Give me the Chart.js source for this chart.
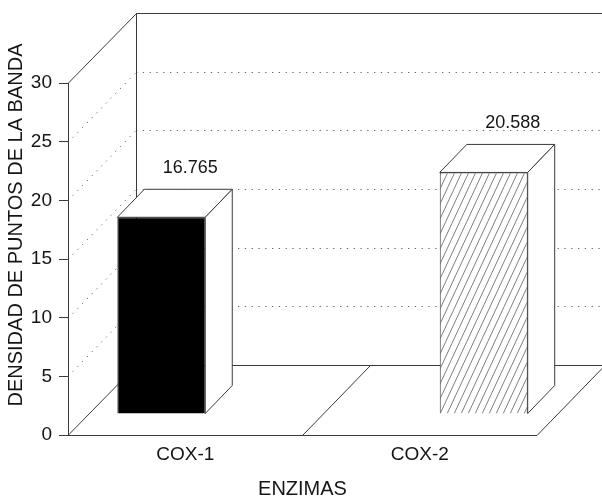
<!DOCTYPE html>
<html>
<head>
<meta charset="utf-8">
<script src="https://cdn.jsdelivr.net/npm/chart.js@4.4.1/dist/chart.umd.min.js"></script>
<style>
  html, body { margin: 0; padding: 0; background: #fff; }
  #wrap { width: 602px; height: 497px; }
</style>
</head>
<body>
<div id="wrap"><canvas id="c" width="602" height="497"></canvas></div>
<script>
// ---- data ----
const categories = ['COX-1', 'COX-2'];
const values = [16.765, 20.588];
const yTicks = [0, 5, 10, 15, 20, 25, 30];
const yTitle = 'DENSIDAD DE PUNTOS DE LA BANDA';
const xTitle = 'ENZIMAS';

// ---- 3D projection settings ----
const WALL_DX = 68, WALL_DY = -70;   // depth of the floor / walls
const BAR_DX = 20, BAR_DY = -21;     // bars stand part-way into the floor
const TOP_DX = 27, TOP_DY = -28;     // depth of each bar
const FONT = '"Liberation Sans", Arial, Helvetica, sans-serif';
const INK = '#151515';
const EDGE = '#3a3a3a';

function makeHatch(ctx) {
  const w = 7, h = 15;
  const c = document.createElement('canvas');
  c.width = w; c.height = h;
  const g = c.getContext('2d');
  g.fillStyle = '#fff';
  g.fillRect(0, 0, w, h);
  g.strokeStyle = '#707070';
  g.lineWidth = 0.9;
  g.beginPath();
  for (const ox of [-w, 0, w]) { g.moveTo(ox, h); g.lineTo(ox + w, 0); }
  g.stroke();
  return ctx.createPattern(c, 'repeat');
}

const canvas = document.getElementById('c');
const ctx0 = canvas.getContext('2d');
const fills = ['#000000', makeHatch(ctx0)];

function seg(ctx, x1, y1, x2, y2) {
  ctx.beginPath();
  ctx.moveTo(x1, y1);
  ctx.lineTo(x2, y2);
  ctx.stroke();
}

// walls, floor and dotted grid drawn in perspective; bars shifted into depth
const frame3d = {
  id: 'frame3d',
  beforeDatasetsDraw(chart) {
    const ctx = chart.ctx;
    const ys = chart.scales.y, xs = chart.scales.x;
    const L = chart.chartArea.left, R = chart.chartArea.right;
    const T = ys.getPixelForValue(yTicks[yTicks.length - 1]);
    const B = ys.getPixelForValue(yTicks[0]);
    const W = chart.width;
    ctx.save();
    ctx.lineWidth = 1;

    // dotted grid on left and back walls
    ctx.strokeStyle = '#6a6a6a';
    ctx.setLineDash([1.3, 5.5]);
    yTicks.slice(1, -1).forEach(v => {
      const y = Math.round(ys.getPixelForValue(v)) + 0.5;
      seg(ctx, L, y, L + WALL_DX, y + WALL_DY);
      seg(ctx, L + WALL_DX, y + WALL_DY, W, y + WALL_DY);
    });
    ctx.setLineDash([]);

    // solid edges
    ctx.strokeStyle = EDGE;
    const t = Math.round(T) + 0.5, b = Math.round(B) + 0.5;
    const bx = Math.round(L + WALL_DX) + 0.5;
    seg(ctx, L, t, bx, t + WALL_DY);
    seg(ctx, bx, t + WALL_DY, W, t + WALL_DY);
    seg(ctx, bx, t + WALL_DY, bx, b + WALL_DY);
    seg(ctx, L, b, bx, b + WALL_DY);
    seg(ctx, bx, b + WALL_DY, W, b + WALL_DY);
    seg(ctx, R, b, R + WALL_DX, b + WALL_DY);
    const mid = (xs.getPixelForValue(0) + xs.getPixelForValue(1)) / 2;
    seg(ctx, mid, b, mid + WALL_DX, b + WALL_DY);
    seg(ctx, L, b, R, b);
    ctx.restore();

    ctx.save();
    ctx.translate(BAR_DX, BAR_DY);
  },
  afterDatasetsDraw(chart) {
    const ctx = chart.ctx;
    ctx.restore();
    ctx.save();
    ctx.lineWidth = 1;
    ctx.strokeStyle = EDGE;
    chart.data.datasets.forEach((ds, i) => {
      const el = chart.getDatasetMeta(i).data[i];
      if (!el) return;
      const l = el.x - el.width / 2 + BAR_DX;
      const r = el.x + el.width / 2 + BAR_DX;
      const t = el.y + BAR_DY;
      const b = el.base + BAR_DY;
      // top face
      ctx.beginPath();
      ctx.moveTo(l, t); ctx.lineTo(r, t);
      ctx.lineTo(r + TOP_DX, t + TOP_DY); ctx.lineTo(l + TOP_DX, t + TOP_DY);
      ctx.closePath();
      ctx.fillStyle = '#fff'; ctx.fill(); ctx.stroke();
      // right side face
      ctx.beginPath();
      ctx.moveTo(r, t); ctx.lineTo(r + TOP_DX, t + TOP_DY);
      ctx.lineTo(r + TOP_DX, b + TOP_DY); ctx.lineTo(r, b);
      ctx.closePath();
      ctx.fillStyle = '#fff'; ctx.fill(); ctx.stroke();
      // value label
      ctx.fillStyle = INK;
      ctx.font = '18px ' + FONT;
      ctx.textAlign = 'center';
      ctx.textBaseline = 'middle';
      ctx.fillText(values[i].toFixed(3), (l + r) / 2 + TOP_DX + 2, t + TOP_DY - 21);
    });
    ctx.restore();
  },
  afterDraw(chart) {
    const ctx = chart.ctx;
    ctx.save();
    ctx.translate(16, 225);
    ctx.rotate(-Math.PI / 2);
    ctx.fillStyle = INK;
    ctx.font = '20px ' + FONT;
    ctx.textAlign = 'center';
    ctx.textBaseline = 'middle';
    ctx.fillText(yTitle, 0, 0);
    ctx.restore();
  }
};

new Chart(canvas, {
  type: 'bar',
  data: {
    labels: categories,
    datasets: values.map((v, i) => ({
      label: categories[i],
      data: categories.map((_, j) => (j === i ? v : null)),
      backgroundColor: fills[i],
      borderColor: EDGE,
      borderWidth: 1,
      barPercentage: 1,
      categoryPercentage: 0.75,
      clip: false
    }))
  },
  options: {
    responsive: false,
    animation: false,
    devicePixelRatio: 1,
    events: [],
    layout: { padding: { top: 83, right: 65, left: 0, bottom: 0 } },
    plugins: { legend: { display: false }, tooltip: { enabled: false } },
    scales: {
      x: {
        afterFit: s => { s.height = 62; },
        grid: { display: false, drawTicks: false },
        border: { display: false },
        ticks: { padding: 8, color: INK, font: { family: FONT, size: 19 } },
        title: { display: true, text: xTitle, color: INK, font: { family: FONT, size: 20 }, padding: { top: 0, bottom: -4 } }
      },
      y: {
        min: 0,
        max: 30,
        afterBuildTicks: s => { s.ticks = yTicks.map(v => ({ value: v })); },
        afterFit: s => { s.width = 68; },
        grid: { drawOnChartArea: false, drawTicks: true, tickLength: 9, color: EDGE },
        border: { display: true, color: EDGE },
        ticks: { padding: 7, color: INK, font: { family: FONT, size: 19 } }
      }
    }
  },
  plugins: [frame3d]
});
</script>
</body>
</html>
